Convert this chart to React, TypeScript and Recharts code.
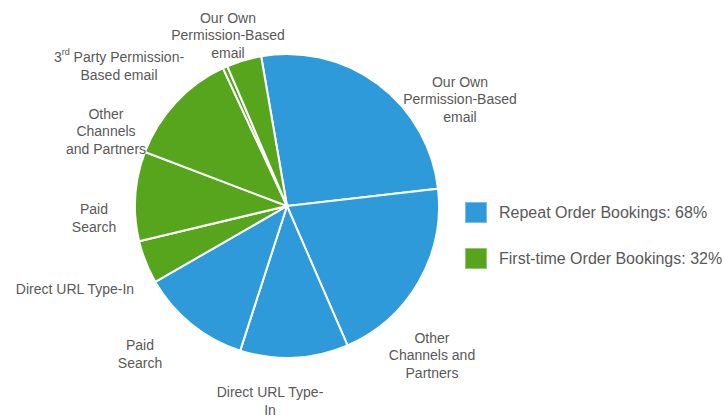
import { PieChart, Pie, Cell } from 'recharts';

// slices, clockwise from just left of 12 o'clock
const channels = [
  'Our Own Permission-Based email',
  'Other Channels and Partners',
  'Direct URL Type-In',
  'Paid Search',
  'Direct URL Type-In',
  'Paid Search',
  'Other Channels and Partners',
  '3rd Party Permission-Based email',
  'Our Own Permission-Based email',
];
const shares = [25.9, 20.3, 11.5, 11.7, 4.6, 9.5, 12.3, 0.5, 3.7];
const bookingType = [0, 0, 0, 0, 1, 1, 1, 1, 1];

// how each label wraps in the picture
const labelLines = [
  ['Our Own', 'Permission-Based', 'email'],
  ['Other', 'Channels and', 'Partners'],
  ['Direct URL Type-', 'In'],
  ['Paid', 'Search'],
  ['Direct URL Type-In'],
  ['Paid', 'Search'],
  ['Other', 'Channels', 'and Partners'],
  ['3rd Party Permission-', 'Based email'],
  ['Our Own', 'Permission-Based', 'email'],
];

const groupNames = ['Repeat Order Bookings', 'First-time Order Bookings'];
const groupShares = [68, 32];

const groupColors = ['#2e9ad9', '#56a51d'];
const textColor = '#595959';

// label block centre, relative to the pie centre
const labelOffsets: [number, number][] = [
  [173, -107],
  [145, 149],
  [-17, 195],
  [-147, 148],
  [-212, 83],
  [-193, 12],
  [-181, -75],
  [-168, -140],
  [-59, -171],
];

const chartData = channels.map((name, i) => ({
  name,
  value: shares[i],
  group: bookingType[i],
}));

const LINE_H = 17.5;

const renderLabel = (props: any) => {
  const { cx, cy, index } = props;
  const lines = labelLines[index];
  const [dx, dy] = labelOffsets[index];
  const top = cy + dy - ((lines.length - 1) * LINE_H) / 2;
  return (
    <text
      key={`lbl-${index}`}
      x={cx + dx}
      y={top}
      textAnchor="middle"
      dominantBaseline="central"
      fill={textColor}
      fontSize={14}
      fontFamily="'Liberation Sans', Arial, sans-serif"
    >
      {lines.map((line, k) => {
        const y = top + k * LINE_H;
        if (line.startsWith('3rd')) {
          return (
            <tspan key={k} x={cx + dx} y={y}>
              3<tspan fontSize={9} dy={-5}>rd</tspan>
              <tspan dy={5}>{line.slice(3)}</tspan>
            </tspan>
          );
        }
        return (
          <tspan key={k} x={cx + dx} y={y}>
            {line}
          </tspan>
        );
      })}
    </text>
  );
};

const GroupLegend = () => (
  <div
    style={{
      position: 'absolute',
      left: 465,
      top: 202,
      fontFamily: "'Liberation Sans', Arial, sans-serif",
    }}
  >
    {groupNames.map((g, i) => (
      <div
        key={g}
        style={{ display: 'flex', alignItems: 'center', height: 21, marginBottom: i === 0 ? 25 : 0 }}
      >
        <span
          style={{
            width: 22,
            height: 21,
            background: groupColors[i],
            boxSizing: 'border-box',
            border: '1px solid rgba(255,255,255,0.35)',
            marginRight: 12,
            flex: 'none',
          }}
        />
        <span style={{ fontSize: 16, color: textColor, whiteSpace: 'nowrap' }}>
          {`${g}: ${groupShares[i]}%`}
        </span>
      </div>
    ))}
  </div>
);

export default function App() {
  return (
    <div style={{ position: 'absolute', left: 0, top: 0, width: 725, height: 418, background: '#fff' }}>
      <PieChart width={725} height={418} margin={{ top: 0, right: 0, bottom: 0, left: 0 }}>
        <Pie
          data={chartData}
          dataKey="value"
          nameKey="name"
          cx={287}
          cy={206}
          outerRadius={152}
          startAngle={99.8}
          endAngle={-260.2}
          stroke="#ffffff"
          strokeWidth={2}
          label={renderLabel}
          labelLine={false}
          isAnimationActive={false}
        >
          {chartData.map((d, i) => (
            <Cell key={`cell-${i}`} fill={groupColors[d.group]} />
          ))}
        </Pie>
      </PieChart>
      <GroupLegend />
    </div>
  );
}
